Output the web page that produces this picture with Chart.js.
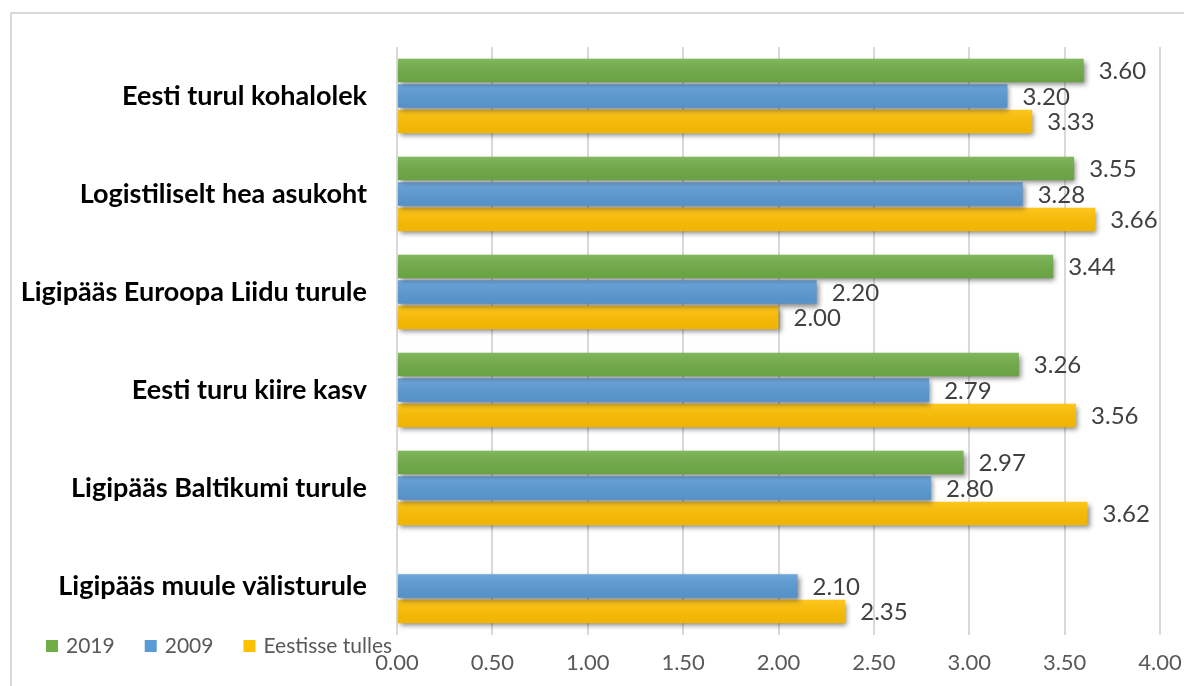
<!DOCTYPE html>
<html>
<head>
<meta charset="utf-8">
<script src="https://cdn.jsdelivr.net/npm/chart.js@4.4.1/dist/chart.umd.min.js"></script>
<style>
  html, body { margin: 0; padding: 0; background: #fff; }
  #wrap { position: relative; width: 1184px; height: 686px; overflow: hidden; }
  #frame { position: absolute; left: 10px; top: 12px; width: 1300px; height: 800px;
           border-left: 2px solid #d9d9d9; border-top: 2px solid #d9d9d9; }
  canvas { position: absolute; left: 0; top: 0; }
</style>
</head>
<body>
<div id="wrap">
  <div id="frame"></div>
  <canvas id="chart" width="1184" height="686"></canvas>
</div>
<script>
// andmed
var categories = [
  'Eesti turul kohalolek',
  'Logistiliselt hea asukoht',
  'Ligipääs Euroopa Liidu turule',
  'Eesti turu kiire kasv',
  'Ligipääs Baltikumi turule',
  'Ligipääs muule välisturule'
];
var seriesNames = ['2019', '2009', 'Eestisse tulles'];
var values2019 = [3.60, 3.55, 3.44, 3.26, 2.97, null];
var values2009 = [3.20, 3.28, 2.20, 2.79, 2.80, 2.10];
var valuesTulles = [3.33, 3.66, 2.00, 3.56, 3.62, 2.35];
var xMin = 0, xMax = 4, xStep = 0.5;

var colors = ['#70ad47', '#5b9bd5', '#ffc000'];

// varjud ribadele
var shadowPlugin = {
  id: 'shadow',
  beforeDatasetsDraw: function(chart) {
    var ctx = chart.ctx;
    ctx.save();
    ctx.shadowColor = 'rgba(0,0,0,0.45)';
    ctx.shadowBlur = 5;
    ctx.shadowOffsetX = 2;
    ctx.shadowOffsetY = 3;
  },
  afterDatasetsDraw: function(chart) {
    var ctx = chart.ctx;
    ctx.restore();
    // kerge gradient + väärtused
    chart.data.datasets.forEach(function(ds, di) {
      var meta = chart.getDatasetMeta(di);
      meta.data.forEach(function(bar, i) {
        var v = ds.data[i];
        if (v === null || v === undefined) return;
        var top = bar.y - bar.height / 2;
        var g = ctx.createLinearGradient(0, top, 0, top + bar.height);
        g.addColorStop(0, 'rgba(255,255,255,0.12)');
        g.addColorStop(1, 'rgba(0,0,0,0.06)');
        ctx.fillStyle = g;
        ctx.fillRect(bar.base, top, bar.x - bar.base, bar.height);
        ctx.fillStyle = '#404040';
        ctx.font = '24px Lato';
        ctx.textAlign = 'left';
        ctx.textBaseline = 'middle';
        ctx.fillText(v.toFixed(2), bar.x + 15, bar.y + 1);
      });
    });
  }
};

// legend all vasakul
var legendPlugin = {
  id: 'legendLeft',
  afterDraw: function(chart) {
    var ctx = chart.ctx;
    var x = 46, y = 646;
    ctx.save();
    ctx.font = '21px Lato';
    ctx.textBaseline = 'middle';
    ctx.textAlign = 'left';
    chart.data.datasets.forEach(function(ds) {
      ctx.fillStyle = ds.backgroundColor;
      ctx.fillRect(x, y - 6, 12, 12);
      ctx.fillStyle = '#595959';
      ctx.fillText(ds.label, x + 20, y);
      x += 20 + ctx.measureText(ds.label).width + 30;
    });
    ctx.restore();
  }
};

var data = {
  labels: categories,
  datasets: [
    { label: seriesNames[0], data: values2019, backgroundColor: colors[0] },
    { label: seriesNames[1], data: values2009, backgroundColor: colors[1] },
    { label: seriesNames[2], data: valuesTulles, backgroundColor: colors[2] }
  ]
};

var config = {
  type: 'bar',
  data: data,
  options: {
    indexAxis: 'y',
    responsive: false,
    animation: false,
    categoryPercentage: 0.78,
    barPercentage: 0.92,
    layout: { padding: { top: 47, right: 0, bottom: 0, left: 0 } },
    plugins: {
      legend: { display: false },
      tooltip: { enabled: false }
    },
    scales: {
      x: {
        min: xMin,
        max: xMax,
        border: { display: false },
        grid: { color: '#d9d9d9', lineWidth: 2, drawTicks: false },
        ticks: {
          stepSize: xStep,
          padding: 15,
          color: '#595959',
          font: { family: 'Lato', size: 22 },
          callback: function(v) { return Number(v).toFixed(2); }
        },
        afterFit: function(s) {
          s.height = 51;
          s.paddingLeft = 0;
          s.paddingRight = 24;
        }
      },
      y: {
        border: { display: false },
        grid: { display: false, drawTicks: false },
        ticks: {
          padding: 30,
          color: '#000',
          font: { family: 'Lato', size: 27, weight: 'bold' }
        },
        afterFit: function(s) { s.width = 397; }
      }
    }
  },
  plugins: [shadowPlugin, legendPlugin]
};

var chart = new Chart(document.getElementById('chart'), config);
</script>
</body>
</html>
